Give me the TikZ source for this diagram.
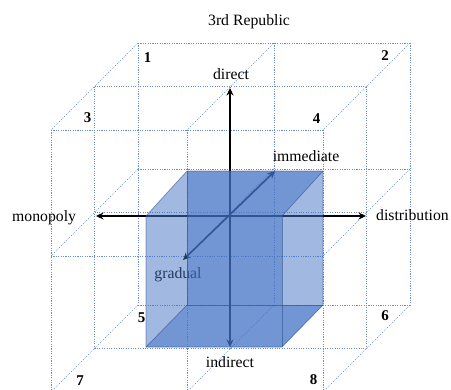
\documentclass[tikz,border=0pt]{standalone}
\usepackage{fontspec}
\setmainfont{Liberation Serif}
\usetikzlibrary{arrows.meta}
\definecolor{cb}{RGB}{68,114,196}
\definecolor{ce}{RGB}{47,82,143}
\begin{document}
\begin{tikzpicture}[x=1bp,y=-1bp,
  grid/.style={cb!80, line width=0.55bp, dash pattern=on 1.1bp off 1.3bp},
  axis/.style={line width=1.8bp, {Stealth[length=7.5bp,width=7bp]}-{Stealth[length=7.5bp,width=7bp]}},
  lbl/.style={font=\fontsize{15.8}{18}\selectfont, inner sep=0pt, anchor=base},
  num/.style={inner sep=0pt, anchor=base, font=\fontsize{15}{18}\selectfont\bfseries},
  face/.style={fill=cb, fill opacity=0.5, draw=none},
  edge/.style={draw=ce, line width=0.7bp, draw opacity=0.6}]
\useasboundingbox (0,0) rectangle (451,389);
% dotted lattice
\begin{scope}
\clip (0,0) rectangle (451,389);
\foreach \k in {0,1,2} {
  \foreach \yy in {43,169,305} {
    \draw[grid] ({138-43.5*\k},{\yy+43.5*\k}) -- ({410-43.5*\k},{\yy+43.5*\k});
  }
  \foreach \i in {0,1,2} {
    \draw[grid] ({138+136*\i-43.5*\k},{43+43.5*\k}) -- ({138+136*\i-43.5*\k},{305+43.5*\k});
  }
}
\foreach \i in {0,1,2} {
  \foreach \yy in {43,169,305} {
    \draw[grid] ({138+136*\i},\yy) -- ++(-87,87);
  }
}
\end{scope}
% axes
\coordinate (top) at (230,88);
\coordinate (bot) at (230,347);
\coordinate (lft) at (96,216);
\coordinate (rgt) at (366,216);
\coordinate (gr) at (183,260);
\coordinate (im) at (275,171);
\draw[axis] (bot) -- (top);
\draw[axis] (lft) -- (rgt);
\draw[axis, line width=1.6bp] (gr) -- (im);
\node[lbl] (gradual) at (178,278) {gradual};
% translucent box
\fill[face] (146,216) -- (187,171) -- (323,171) -- (323,305) -- (282,347) -- (146,347) -- cycle;
\fill[face] (187,171) -- (323,171) -- (282,216) -- (282,305) -- (323,305) -- (282,347) -- (146,347) -- (187,305) -- cycle;
\draw[edge] (146,216) -- (187,171) -- (323,171) -- (323,305) -- (282,347) -- (146,347) -- cycle;
\draw[edge] (146,216) -- (282,216) -- (323,171);
\draw[edge] (282,216) -- (282,347);
\draw[edge] (187,171) -- (187,305) -- (323,305);
\draw[edge] (146,347) -- (187,305);
% labels
\node[lbl] (title) at (249,25) {3rd Republic};
\node[lbl] (direct) at (231,79) {direct};
\node[lbl] (immediate) at (306,161) {immediate};
\node[lbl, anchor=base west] (monopoly) at (12,221) {monopoly};
\node[lbl, anchor=base west] (distribution) at (376,220) {distribution};
\node[lbl] (indirect) at (230,367) {indirect};
\node[num] (n1) at (147.5,62) {1};
\node[num] (n2) at (385,60) {2};
\node[num] (n3) at (87.5,122) {3};
\node[num] (n4) at (316.5,123) {4};
\node[num] (n5) at (141.5,322) {5};
\node[num] (n6) at (385,320) {6};
\node[num] (n7) at (80,385) {7};
\node[num] (n8) at (313.5,384) {8};
\end{tikzpicture}
\end{document}
